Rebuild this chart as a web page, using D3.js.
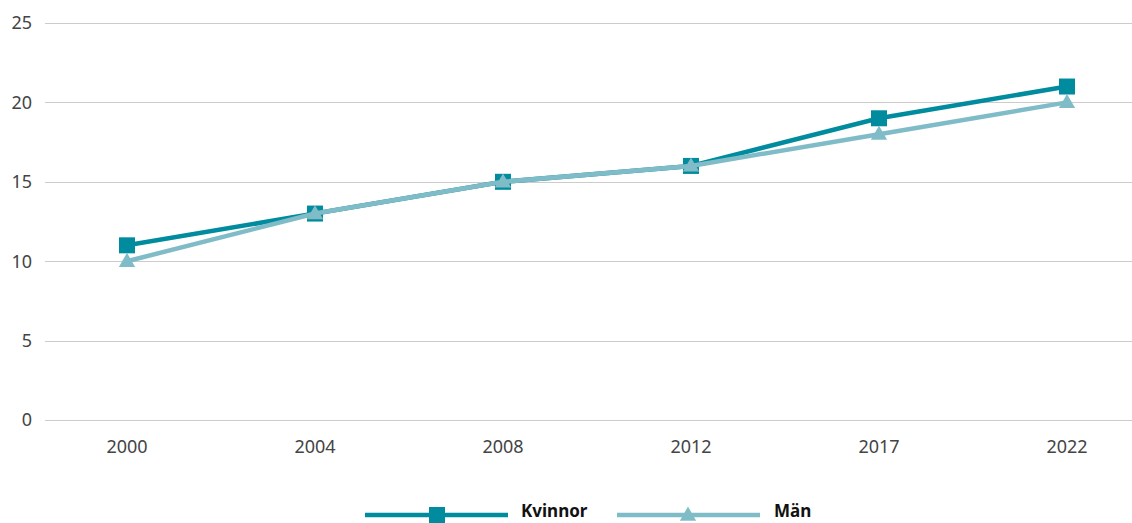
<!DOCTYPE html>
<html>
<head>
<meta charset="utf-8">
<script src="https://d3js.org/d3.v7.min.js"></script>
<style>
    body { margin: 0; background: #ffffff; }
    text { font-family: "Noto Sans", sans-serif; }
    .tick-label { font-size: 18px; fill: #444444; }
    .legend-label { font-size: 17px; font-weight: 700; fill: #111111; }
</style>
</head>
<body>
<div id="chart"></div>
<script>
    // data
    const years = ["2000", "2004", "2008", "2012", "2017", "2022"];
    const kvinnor = [11, 13, 15, 16, 19, 21];
    const man = [10, 13, 15, 16, 18, 20];
    const yTicks = [0, 5, 10, 15, 20, 25];

    const W = 1132, H = 523;
    const colK = "#008c9e", colM = "#80bcc8";

    const svg = d3.select("#chart").append("svg")
        .attr("width", W)
        .attr("height", H);

    const x = d3.scaleBand()
        .domain(years)
        .range([33, 1161]);

    const y = d3.scaleLinear()
        .domain([0, 25])
        .range([420, 23]);

    // grid
    svg.append("g")
        .selectAll("line")
        .data(yTicks)
        .join("line")
        .attr("x1", 45)
        .attr("x2", W)
        .attr("y1", d => Math.round(y(d)) + 0.5)
        .attr("y2", d => Math.round(y(d)) + 0.5)
        .attr("stroke", "#cccccc")
        .attr("stroke-width", 1);

    // y labels
    svg.append("g")
        .selectAll("text")
        .data(yTicks)
        .join("text")
        .attr("class", "tick-label")
        .attr("x", 32)
        .attr("y", d => y(d))
        .attr("dy", "0.35em")
        .attr("text-anchor", "end")
        .text(d => d);

    // x labels
    svg.append("g")
        .selectAll("text")
        .data(years)
        .join("text")
        .attr("class", "tick-label")
        .attr("x", d => x(d) + x.bandwidth() / 2)
        .attr("y", 453)
        .attr("text-anchor", "middle")
        .text(d => d);

    const cx = d => x(d) + x.bandwidth() / 2;
    const line = d3.line()
        .x((d, i) => cx(years[i]))
        .y(d => y(d));

    const tri = d3.symbol().type(d3.symbolTriangle).size(115);

    // Kvinnor series
    svg.append("path")
        .datum(kvinnor)
        .attr("d", line)
        .attr("fill", "none")
        .attr("stroke", colK)
        .attr("stroke-width", 4.5);

    svg.append("g")
        .selectAll("rect")
        .data(kvinnor)
        .join("rect")
        .attr("x", (d, i) => cx(years[i]) - 8)
        .attr("y", d => y(d) - 8)
        .attr("width", 16)
        .attr("height", 16)
        .attr("fill", colK);

    // Män series (on top)
    svg.append("path")
        .datum(man)
        .attr("d", line)
        .attr("fill", "none")
        .attr("stroke", colM)
        .attr("stroke-width", 4.5);

    svg.append("g")
        .selectAll("path")
        .data(man)
        .join("path")
        .attr("d", tri)
        .attr("transform", (d, i) => `translate(${cx(years[i])}, ${y(d) + 1})`)
        .attr("fill", colM);

    // legend
    const leg = svg.append("g").attr("transform", "translate(0, 515)");
    leg.append("line").attr("x1", 365).attr("x2", 508).attr("y1", 0).attr("y2", 0)
        .attr("stroke", colK).attr("stroke-width", 4.5);
    leg.append("rect").attr("x", 429).attr("y", -8).attr("width", 16).attr("height", 16)
        .attr("fill", colK);
    leg.append("text").attr("class", "legend-label").attr("x", 521).attr("y", 2)
        .text("Kvinnor");

    leg.append("line").attr("x1", 617).attr("x2", 760).attr("y1", 0).attr("y2", 0)
        .attr("stroke", colM).attr("stroke-width", 4.5);
    leg.append("path").attr("d", tri).attr("transform", "translate(688, 1)")
        .attr("fill", colM);
    leg.append("text").attr("class", "legend-label").attr("x", 774).attr("y", 2)
        .text("Män");
</script>
</body>
</html>
